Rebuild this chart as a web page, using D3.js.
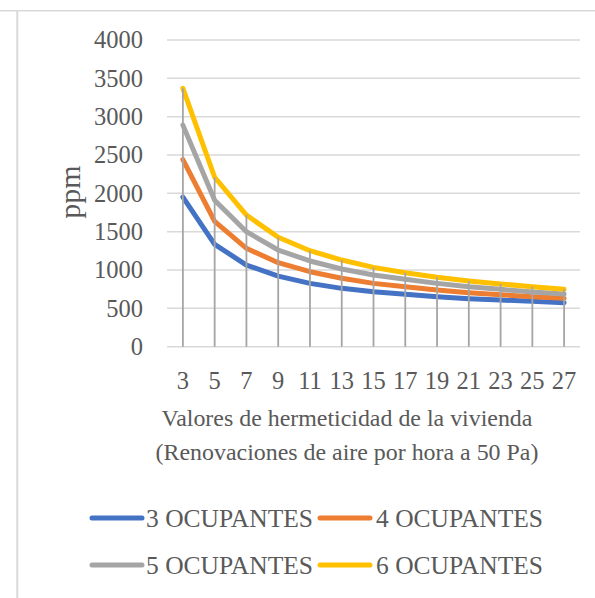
<!DOCTYPE html>
<html>
<head>
<meta charset="utf-8">
<script src="https://cdn.jsdelivr.net/npm/d3@7"></script>
<style>
  html, body { margin: 0; padding: 0; background: #fff; }
  svg { display: block; }
  text { font-family: "Liberation Serif", "Times New Roman", serif; fill: #595959; }
</style>
</head>
<body>
<svg id="chart" width="595" height="598"></svg>
<script>
// Air changes per hour at 50 Pa
const renovaciones = [3, 5, 7, 9, 11, 13, 15, 17, 19, 21, 23, 25, 27];

// CO2 concentration (ppm) by number of occupants
const ocupantes3 = [1950, 1335, 1065, 920, 826, 761, 717, 683, 652, 626, 609, 592, 574];
const ocupantes4 = [2440, 1635, 1283, 1096, 978, 892, 826, 782, 739, 704, 678, 652, 631];
const ocupantes5 = [2890, 1910, 1500, 1261, 1118, 1013, 935, 879, 826, 782, 748, 713, 687];
const ocupantes6 = [3370, 2210, 1717, 1427, 1252, 1130, 1035, 965, 905, 857, 818, 782, 748];

const seriesNames = ["3 OCUPANTES", "4 OCUPANTES", "5 OCUPANTES", "6 OCUPANTES"];
const seriesColors = ["#4472c4", "#ed7d31", "#a5a5a5", "#ffc000"];
const yTicks = [0, 500, 1000, 1500, 2000, 2500, 3000, 3500, 4000];

const seriesData = [ocupantes3, ocupantes4, ocupantes5, ocupantes6];

const svg = d3.select("#chart");
const FONT = "Liberation Serif";

// chart frame edges
svg.append("line").attr("x1", 0).attr("x2", 595).attr("y1", 10.8).attr("y2", 10.8)
  .attr("stroke", "#d9d9d9").attr("stroke-width", 1.6);
svg.append("line").attr("x1", 17.3).attr("x2", 17.3).attr("y1", 10.8).attr("y2", 598)
  .attr("stroke", "#d9d9d9").attr("stroke-width", 2);

const plot = { left: 167, right: 580, top: 40, bottom: 346.7 };

const x = d3.scaleBand().domain(renovaciones).range([plot.left, plot.right]);
const xc = v => x(v) + x.bandwidth() / 2;
const y = d3.scaleLinear().domain([0, 4000]).range([plot.bottom, plot.top]);

// horizontal gridlines
svg.append("g").selectAll("line").data(yTicks).join("line")
  .attr("x1", plot.left).attr("x2", plot.right)
  .attr("y1", d => y(d)).attr("y2", d => y(d))
  .attr("stroke", "#d9d9d9").attr("stroke-width", 1.5);

// value axis labels
const yAxis = svg.append("g")
  .attr("transform", `translate(${plot.left},0)`)
  .call(d3.axisLeft(y).tickValues(yTicks).tickSize(0).tickPadding(24).tickFormat(d3.format("d")));
yAxis.select(".domain").remove();
yAxis.attr("font-family", FONT);
yAxis.selectAll("text")
  .attr("font-family", FONT).attr("font-size", 24.5).attr("fill", "#595959");

// category axis labels
const xAxis = svg.append("g")
  .attr("transform", `translate(0,${plot.bottom})`)
  .call(d3.axisBottom(x).tickSize(0).tickPadding(0));
xAxis.select(".domain").remove();
xAxis.attr("font-family", FONT);
xAxis.selectAll("text")
  .attr("y", 34).attr("dy", "0.35em")
  .attr("font-family", FONT).attr("font-size", 24.5).attr("fill", "#595959");

// series lines
const line = d3.line().x((d, i) => xc(renovaciones[i])).y(d => y(d));
svg.append("g").selectAll("path").data(seriesData).join("path")
  .attr("d", d => line(d))
  .attr("fill", "none")
  .attr("stroke", (d, i) => seriesColors[i])
  .attr("stroke-width", 5)
  .attr("stroke-linecap", "round")
  .attr("stroke-linejoin", "round");

// drop lines from the highest point of each category to the axis
svg.append("g").selectAll("line").data(renovaciones).join("line")
  .attr("x1", d => xc(d)).attr("x2", d => xc(d))
  .attr("y1", y(0))
  .attr("y2", (d, i) => y(d3.max(seriesData, s => s[i])))
  .attr("stroke", "#a5a5a5").attr("stroke-width", 1.8);

// axis titles
svg.append("text")
  .attr("transform", "translate(80,192) rotate(-90)")
  .attr("text-anchor", "middle")
  .attr("font-family", FONT)
  .attr("font-size", 30)
  .text("ppm");

const xTitle = svg.append("text").attr("text-anchor", "middle")
  .attr("font-family", FONT).attr("font-size", 23.9);
xTitle.append("tspan").attr("x", 347).attr("y", 426).text("Valores de hermeticidad de la vivienda");
xTitle.append("tspan").attr("x", 347).attr("y", 460).text("(Renovaciones de aire por hora a 50 Pa)");

// legend
const legendPos = [
  { lx: 90, tx: 146, y: 518 },
  { lx: 318, tx: 376, y: 518 },
  { lx: 90, tx: 146, y: 565 },
  { lx: 318, tx: 376, y: 565 }
];
const legend = svg.append("g").selectAll("g").data(seriesNames).join("g");
legend.append("line")
  .attr("x1", (d, i) => legendPos[i].lx + 2).attr("x2", (d, i) => legendPos[i].lx + 52)
  .attr("y1", (d, i) => legendPos[i].y).attr("y2", (d, i) => legendPos[i].y)
  .attr("stroke", (d, i) => seriesColors[i])
  .attr("stroke-width", 5).attr("stroke-linecap", "round");
legend.append("text")
  .attr("x", (d, i) => legendPos[i].tx)
  .attr("y", (d, i) => legendPos[i].y)
  .attr("dy", "0.35em")
  .attr("font-family", FONT)
  .attr("font-size", 25.5)
  .text(d => d);
</script>
</body>
</html>
